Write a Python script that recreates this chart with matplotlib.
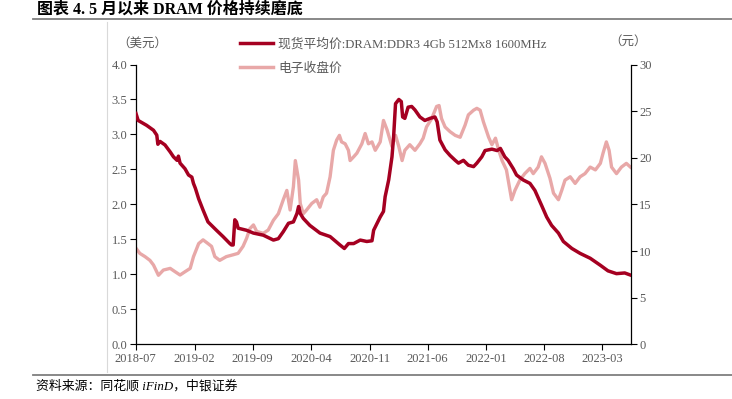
import matplotlib
matplotlib.use("Agg")
import matplotlib.pyplot as plt
import matplotlib.dates as mdates
from matplotlib.lines import Line2D
import pandas as pd

plt.rcParams['font.family'] = ['Liberation Serif', 'Noto Sans CJK SC', 'DejaVu Sans']

title = "图表 4. 5 月以来 DRAM 价格持续磨底"
source = "资料来源：同花顺 iFinD，中银证券"
dram_label = "现货平均价:DRAM:DDR3 4Gb 512Mx8 1600MHz"
elec_label = "电子收盘价"
left_unit = "（美元）"
right_unit = "（元）"
tick_dates = ["2018-07", "2019-02", "2019-09", "2020-04", "2020-11",
              "2021-06", "2022-01", "2022-08", "2023-03"]

dram_dates = ["2018-07-02", "2018-07-10", "2018-08-10", "2018-09-04", "2018-09-16", "2018-09-20",
              "2018-09-28", "2018-10-16", "2018-11-04", "2018-11-16", "2018-11-29", "2018-12-04",
              "2018-12-10", "2018-12-28", "2019-01-10", "2019-01-22", "2019-01-28", "2019-02-04",
              "2019-02-16", "2019-03-04", "2019-03-22", "2019-04-22", "2019-05-16", "2019-06-10",
              "2019-06-16", "2019-06-22", "2019-06-28", "2019-07-04", "2019-07-10", "2019-08-10",
              "2019-09-04", "2019-10-10", "2019-11-16", "2019-12-04", "2019-12-22", "2020-01-10",
              "2020-01-28", "2020-02-10", "2020-02-16", "2020-02-22", "2020-03-04", "2020-03-28",
              "2020-05-04", "2020-06-10", "2020-07-16", "2020-08-01", "2020-08-16", "2020-09-04",
              "2020-09-28", "2020-10-22", "2020-11-10", "2020-11-16", "2020-12-10", "2020-12-22",
              "2020-12-28", "2021-01-10", "2021-01-22", "2021-01-28", "2021-02-04", "2021-02-16",
              "2021-02-25", "2021-03-02", "2021-03-10", "2021-03-22", "2021-04-04", "2021-04-16",
              "2021-05-04", "2021-05-22", "2021-06-10", "2021-06-28", "2021-07-06", "2021-07-16",
              "2021-08-04", "2021-08-22", "2021-09-10", "2021-09-22", "2021-10-10", "2021-10-28",
              "2021-11-16", "2021-11-28", "2021-12-16", "2021-12-28", "2022-01-22", "2022-02-10",
              "2022-02-22", "2022-03-10", "2022-03-22", "2022-04-10", "2022-04-22", "2022-05-16",
              "2022-06-10", "2022-06-28", "2022-07-22", "2022-08-10", "2022-08-28", "2022-09-22",
              "2022-10-10", "2022-11-10", "2022-12-10", "2023-01-16", "2023-02-22", "2023-03-22",
              "2023-04-22", "2023-05-22", "2023-06-12"]
dram_values = [3.30, 3.20, 3.13, 3.06, 2.99, 2.86,
               2.90, 2.85, 2.75, 2.68, 2.63, 2.69,
               2.59, 2.51, 2.42, 2.39, 2.30, 2.23,
               2.08, 1.92, 1.75, 1.63, 1.54, 1.44,
               1.42, 1.42, 1.78, 1.75, 1.66, 1.63,
               1.59, 1.56, 1.49, 1.51, 1.61, 1.73,
               1.75, 1.87, 1.97, 1.87, 1.80, 1.70,
               1.59, 1.54, 1.42, 1.37, 1.44, 1.44,
               1.49, 1.47, 1.48, 1.63, 1.82, 1.90,
               2.11, 2.35, 2.68, 2.97, 3.44, 3.50,
               3.47, 3.25, 3.23, 3.39, 3.40, 3.35,
               3.25, 3.20, 3.23, 3.25, 3.18, 2.92,
               2.78, 2.70, 2.63, 2.59, 2.63, 2.56,
               2.54, 2.59, 2.68, 2.77, 2.79, 2.77,
               2.80, 2.68, 2.63, 2.51, 2.42, 2.35,
               2.30, 2.20, 1.99, 1.82, 1.70, 1.59,
               1.47, 1.37, 1.30, 1.23, 1.13, 1.05,
               1.01, 1.02, 0.99]

elec_dates = ["2018-07-02", "2018-07-16", "2018-08-04", "2018-08-22", "2018-09-04", "2018-09-22",
              "2018-10-10", "2018-11-04", "2018-11-22", "2018-12-10", "2018-12-28", "2019-01-16",
              "2019-01-28", "2019-02-16", "2019-03-04", "2019-03-22", "2019-04-04", "2019-04-16",
              "2019-05-04", "2019-05-28", "2019-06-22", "2019-07-10", "2019-07-28", "2019-08-10",
              "2019-08-22", "2019-09-04", "2019-09-16", "2019-10-10", "2019-10-28", "2019-11-16",
              "2019-12-04", "2019-12-22", "2020-01-04", "2020-01-16", "2020-01-28", "2020-02-04",
              "2020-02-16", "2020-02-22", "2020-03-04", "2020-03-16", "2020-04-04", "2020-04-22",
              "2020-05-04", "2020-05-16", "2020-05-28", "2020-06-10", "2020-06-22", "2020-07-04",
              "2020-07-14", "2020-07-22", "2020-08-04", "2020-08-16", "2020-08-22", "2020-09-04",
              "2020-09-16", "2020-10-04", "2020-10-16", "2020-10-28", "2020-11-10", "2020-11-22",
              "2020-12-04", "2020-12-10", "2020-12-22", "2021-01-04", "2021-01-22", "2021-02-04",
              "2021-02-16", "2021-02-28", "2021-03-10", "2021-03-28", "2021-04-16", "2021-05-04",
              "2021-05-16", "2021-05-28", "2021-06-16", "2021-07-04", "2021-07-13", "2021-07-22",
              "2021-08-04", "2021-08-22", "2021-09-10", "2021-09-28", "2021-10-16", "2021-10-28",
              "2021-11-16", "2021-11-28", "2021-12-10", "2021-12-22", "2022-01-10", "2022-01-22",
              "2022-02-04", "2022-02-16", "2022-02-28", "2022-03-16", "2022-04-04", "2022-04-16",
              "2022-05-04", "2022-05-22", "2022-06-10", "2022-06-22", "2022-07-10", "2022-07-22",
              "2022-08-04", "2022-08-22", "2022-09-04", "2022-09-22", "2022-10-04", "2022-10-16",
              "2022-11-04", "2022-11-22", "2022-12-10", "2022-12-28", "2023-01-16", "2023-02-04",
              "2023-02-22", "2023-03-04", "2023-03-16", "2023-03-26", "2023-04-04", "2023-04-22",
              "2023-05-10", "2023-05-28", "2023-06-12"]
elec_values = [10.3, 9.75, 9.4, 9.0, 8.5, 7.4,
               7.96, 8.14, 7.78, 7.43, 7.78, 8.14,
               9.39, 10.8, 11.2, 10.8, 10.5, 9.4,
               9.0, 9.4, 9.6, 9.75, 10.5, 11.36,
               12.4, 12.8, 12.1, 11.9, 12.25, 13.3,
               14.0, 15.5, 16.5, 14.4, 16.9, 19.7,
               17.6, 15.1, 14.0, 14.4, 15.1, 15.5,
               14.7, 15.8, 16.2, 17.96, 20.8, 21.9,
               22.4, 21.7, 21.5, 20.8, 19.7, 20.1,
               20.5, 21.5, 22.6, 21.5, 21.7, 20.8,
               21.4, 21.7, 24.0, 23.0, 21.2, 22.4,
               21.2, 19.7, 20.8, 21.4, 20.8, 21.5,
               22.1, 23.3, 24.2, 25.5, 25.6, 24.2,
               23.3, 22.8, 22.4, 22.2, 23.5, 24.6,
               25.1, 25.3, 25.1, 23.85, 22.2, 21.4,
               22.1, 20.8, 19.7, 18.7, 15.5, 16.5,
               17.6, 18.3, 18.86, 18.3, 19.0, 20.1,
               19.4, 17.8, 16.2, 15.5, 16.5, 17.6,
               17.96, 17.25, 17.96, 18.3, 19.0, 18.7,
               19.4, 20.5, 21.7, 20.8, 19.0, 18.3,
               19.0, 19.4, 19.0]

DARK = "#A50021"
PINK = "#E8A8A8"
GRAY = "#595959"

fig = plt.figure(figsize=(7.32, 3.99), dpi=100)
ax = fig.add_axes([135.7 / 732, 1 - 344.3 / 399, (631 - 135.7) / 732, (344.3 - 64.5) / 399])
ax2 = ax.twinx()

ax2.plot(pd.to_datetime(elec_dates), elec_values, color=PINK, lw=2.4, zorder=1)
ax.plot(pd.to_datetime(dram_dates), dram_values, color=DARK, lw=2.5, zorder=3)
ax.set_zorder(ax2.get_zorder() + 1)
ax.patch.set_visible(False)

ax.set_xlim(pd.Timestamp("2018-07-01"), pd.Timestamp("2023-06-14"))
ax.set_ylim(0, 4.0)
ax2.set_ylim(0, 30)
ax.set_yticks([0, 0.5, 1.0, 1.5, 2.0, 2.5, 3.0, 3.5, 4.0])
ax.set_yticklabels([f"{v:.1f}" for v in ax.get_yticks()])
ax2.set_yticks([0, 5, 10, 15, 20, 25, 30])
ax.set_xticks(pd.to_datetime(tick_dates))
ax.xaxis.set_major_formatter(mdates.DateFormatter("%Y-%m"))

for a in (ax, ax2):
    a.spines['top'].set_visible(False)
    for s in ('left', 'right', 'bottom'):
        a.spines[s].set_color("#000000")
        a.spines[s].set_linewidth(0.9)
    a.tick_params(axis='both', direction='out', length=4, width=0.8, color="#000000",
                  labelsize=9, labelcolor=GRAY, pad=2)
ax.spines['right'].set_visible(False)
ax2.spines['left'].set_visible(False)
ax2.spines['bottom'].set_visible(False)

# units
fig.text(142 / 732, 1 - 44 / 399, left_unit, ha='center', va='center', fontsize=9, color=GRAY)
fig.text(628 / 732, 1 - 42 / 399, right_unit, ha='center', va='center', fontsize=9, color=GRAY)

# legend
handles = [Line2D([], [], color=DARK, lw=2.5), Line2D([], [], color=PINK, lw=2.5)]
fig.legend(handles, [dram_label, elec_label], loc='upper left',
           bbox_to_anchor=(240 / 732, 1 - 38 / 399), frameon=False, fontsize=9.2,
           handlelength=2.6, handletextpad=0.4, labelspacing=0.95, labelcolor=GRAY,
           borderaxespad=0, borderpad=0)

# title, rules, source
fig.text(37 / 732, 1 - 10 / 399, title, ha='left', va='center', fontsize=11.5,
         fontweight='bold', color="#000000")
fig.add_artist(Line2D([33 / 732, 1], [1 - 19 / 399, 1 - 19 / 399], color="#7f7f7f", lw=1.3))
fig.add_artist(Line2D([33 / 732, 1], [1 - 375 / 399, 1 - 375 / 399], color="#7f7f7f", lw=1.3))
fig.add_artist(Line2D([107 / 732, 107 / 732], [1 - 22 / 399, 1 - 372 / 399], color="#d9d9d9", lw=0.8))
fig.text(36 / 732, 1 - 386 / 399, source, ha='left', va='center', fontsize=9.3,
         style='italic', color="#000000")

fig.savefig("out.png", dpi=100)
